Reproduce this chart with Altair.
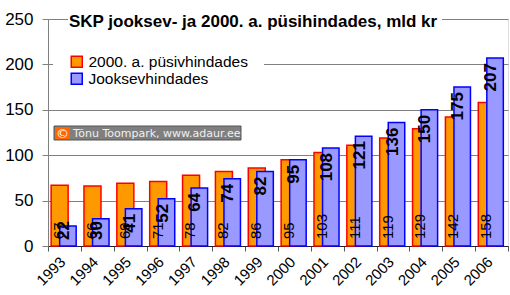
import altair as alt
import pandas as pd

years = [str(y) for y in range(1993, 2007)]
constant_prices = [67, 66, 69, 71, 78, 82, 86, 95, 103, 111, 119, 129, 142, 158]
current_prices = [22, 30, 41, 52, 64, 74, 82, 95, 108, 121, 136, 150, 175, 207]
series_names = ["2000. a. püsivhindades", "Jooksevhindades"]
title_text = "SKP jooksev- ja 2000. a. püsihindades, mld kr"
credit_text = "Tõnu Toompark, www.adaur.ee"

rows = []
for y, c, j in zip(years, constant_prices, current_prices):
    rows.append({"year": y, "series": series_names[0], "value": c})
    rows.append({"year": y, "series": series_names[1], "value": j})
df = pd.DataFrame(rows)

FONT = "Liberation Sans"
fill_scale = alt.Scale(domain=series_names, range=["#FF9900", "#9999FF"])
stroke_scale = alt.Scale(domain=series_names, range=["#FF0000", "#0000FF"])
leg = alt.Legend(
    title=None, orient="none", legendX=5, legendY=19, padding=16,
    fillColor="white", symbolType="square", symbolSize=121,
    symbolStrokeWidth=1.5, labelFontSize=15.5, labelFont=FONT,
    labelColor="black", labelOffset=4, rowPadding=-1.5, labelLimit=300,
)

x_enc = alt.X(
    "year:O", title=None,
    scale=alt.Scale(paddingInner=0, paddingOuter=0),
    axis=alt.Axis(
        labelAngle=-45, labelAlign="right", labelBaseline="top",
        labelFontSize=15, labelFont=FONT, labelColor="black",
        tickBand="extent", tickSize=5, tickColor="#555555",
        domainColor="#222222", labelPadding=3, labelOffset=-7,
    ),
)
y_enc = alt.Y(
    "value:Q", title=None,
    scale=alt.Scale(domain=[0, 250], nice=False),
    axis=alt.Axis(
        values=[0, 50, 100, 150, 200, 250], labelFontSize=17, labelFont=FONT,
        labelColor="black", tickSize=6, tickColor="#808080",
        domainColor="#808080", gridColor="#808080", labelPadding=9,
    ),
)

base = alt.Chart(df)

bars_c = base.transform_filter(alt.datum.series == series_names[0]).mark_bar(
    width=17, xOffset=-4.8, strokeWidth=1.5
).encode(
    x=x_enc, y=y_enc,
    fill=alt.Fill("series:N", scale=fill_scale, legend=leg),
    stroke=alt.Stroke("series:N", scale=stroke_scale, legend=leg),
)
bars_j = base.transform_filter(alt.datum.series == series_names[1]).mark_bar(
    width=16.5, xOffset=3.5, strokeWidth=1.5
).encode(
    x=x_enc, y=y_enc,
    fill=alt.Fill("series:N", scale=fill_scale, legend=leg),
    stroke=alt.Stroke("series:N", scale=stroke_scale, legend=leg),
)

lab_c = base.transform_filter(alt.datum.series == series_names[0]).mark_text(
    angle=270, align="left", baseline="middle", dx=7, xOffset=-5.5,
    fontSize=15, font=FONT, color="black",
).encode(x=x_enc, y=alt.datum(0), text="value:Q")

lab_j = base.transform_filter(alt.datum.series == series_names[1]).transform_calculate(
    ypos="max(datum.value, 33)"
).mark_text(
    angle=270, align="right", baseline="middle", dx=-5, xOffset=-0.5,
    fontSize=17, font=FONT, fontWeight="bold", color="black",
).encode(x=x_enc, y=alt.Y("ypos:Q"), text="value:Q")

tdf = pd.DataFrame({"t": [title_text]})
title_bg = alt.Chart(tdf).mark_rect(fill="white").encode(
    x=alt.value(20), x2=alt.value(394), y=alt.value(-4), y2=alt.value(13)
)
title = alt.Chart(tdf).mark_text(
    align="left", baseline="alphabetic", fontSize=17, fontWeight="bold",
    font=FONT, color="black",
).encode(x=alt.value(21), y=alt.value(8), text="t:N")

cdf = pd.DataFrame({"t": [credit_text], "c": ["©"]})
credit_box = alt.Chart(cdf).mark_rect(fill="#7f7f7f", stroke="#555555", strokeWidth=1).encode(
    x=alt.value(6), x2=alt.value(193), y=alt.value(107), y2=alt.value(121)
)
credit_sq = alt.Chart(cdf).mark_rect(fill="#FF6600").encode(
    x=alt.value(7), x2=alt.value(22), y=alt.value(108), y2=alt.value(120)
)
credit_c = alt.Chart(cdf).mark_text(
    align="center", baseline="middle", fontSize=13, font="DejaVu Sans", color="white"
).encode(x=alt.value(14.5), y=alt.value(114.5), text="c:N")
credit_t = alt.Chart(cdf).mark_text(
    align="left", baseline="middle", fontSize=11, font="DejaVu Sans", color="#f0f0f0"
).encode(x=alt.value(25), y=alt.value(114.5), text="t:N")

chart = alt.layer(
    bars_c, bars_j, lab_c, lab_j, title_bg, title, credit_box, credit_sq, credit_c, credit_t
).properties(
    width=460, height=227,
    padding={"left": 48, "top": 19, "right": 2, "bottom": 49},
    autosize="none", background="white",
).configure_view(stroke=None).configure(font=FONT)

chart.save("out.html", embed_options={"renderer": "svg", "actions": False})
